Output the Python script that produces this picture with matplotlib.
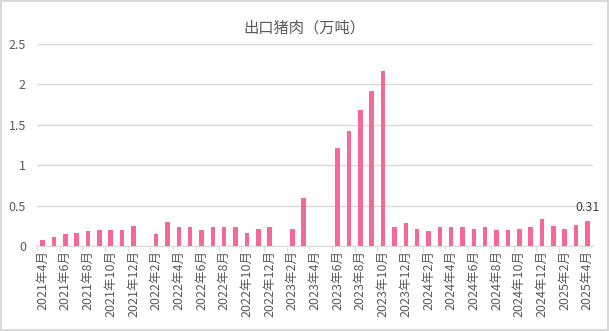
import matplotlib.pyplot as plt
import numpy as np

plt.rcParams['font.family'] = ['Noto Sans CJK SC', 'DejaVu Sans']

months = []
for y in range(2021, 2026):
    for m in range(1, 13):
        if (y, m) < (2021, 4) or (y, m) > (2025, 4):
            continue
        months.append(f"{y}年{m}月")

# 出口猪肉（万吨），缺失月份为 nan
values = [0.07, 0.11, 0.15, 0.16, 0.18, 0.20, 0.20, 0.20, 0.25,
          np.nan, 0.15, 0.30, 0.24, 0.23, 0.20, 0.24, 0.24, 0.24, 0.16, 0.21, 0.24,
          np.nan, 0.21, 0.60, np.nan, np.nan, 1.21, 1.42, 1.68, 1.92, 2.17, 0.23, 0.28,
          0.21, 0.18, 0.23, 0.23, 0.24, 0.21, 0.24, 0.20, 0.20, 0.21, 0.24, 0.33,
          0.25, 0.21, 0.26, 0.31]

fig = plt.figure(figsize=(6.09, 3.31), dpi=100)
fig.patch.set_edgecolor('#d9d9d9')
fig.patch.set_linewidth(1.5)
ax = fig.add_axes([37 / 609, 85 / 331, 556 / 609, 202 / 331])

x = np.arange(len(months))
ax.bar(x, values, width=0.4, color='#f6689a', zorder=3)

ax.set_xlim(-0.5, len(months) - 0.5)
ax.set_ylim(0, 2.5)
ax.set_yticks(np.arange(0, 2.51, 0.5))
ax.set_yticklabels(['0', '0.5', '1', '1.5', '2', '2.5'])
ax.yaxis.grid(True, color='#d9d9d9', linewidth=1)
ax.tick_params(axis='y', length=0, labelsize=9, colors='#595959', pad=8)

ax.set_xticks(x[::2])
ax.set_xticklabels(months[::2], rotation=90)
ax.set_xticks(np.arange(-0.5, len(months) - 0.5, 2), minor=True)
ax.tick_params(axis='x', which='major', length=0, labelsize=9, colors='#595959', pad=3)
ax.tick_params(axis='x', which='minor', length=4, color='#d9d9d9')

for s in ['top', 'right', 'left']:
    ax.spines[s].set_visible(False)
ax.spines['bottom'].set_color('#d9d9d9')

# 最后一个数据标签
ax.text(x[-1], values[-1] + 0.08, f"{values[-1]:.2f}", ha='center', va='bottom',
        fontsize=9, color='#404040')

fig.text(0.5, 0.915, '出口猪肉（万吨）', ha='center', va='center', fontsize=11, color='#595959')

fig.savefig('out.png', dpi=100, edgecolor=fig.get_edgecolor())
